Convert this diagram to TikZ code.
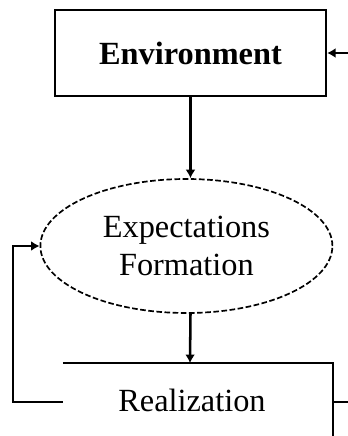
\documentclass[tikz,border=0pt]{standalone}
\usepackage{fontspec}
\setmainfont{Liberation Serif}
\usetikzlibrary{shapes.geometric, arrows.meta, positioning}
\tikzset{
  boxtxt/.style={font=\fontsize{23}{27}\selectfont},
  tip/.style={-{Latex[length=6pt,width=7pt]}}
}
\begin{document}
\begin{tikzpicture}
    \useasboundingbox (0,0) rectangle (8.7,-10.9);
    \clip (0,0) rectangle (8.7,-10.9);
    \node (env) at (4.7625,-1.325) [draw, line width=1.6pt, minimum width=6.775cm, minimum height=2.15cm, boxtxt] {\textbf{Environment}};
    \node (ell) at (4.66,-6.15) [draw, ellipse, dash pattern=on 4pt off 1.8pt, line width=1.2pt, minimum width=7.3cm, minimum height=3.35cm, align=center, boxtxt] {Expectations\\Formation};
    \node (real) at (4.8,-10.0) [boxtxt] {Realization};
    \coordinate (realtop) at (4.75,-9.075);
    \coordinate (realleft) at (1.575,-10.05);
    \coordinate (envin) at (9.0,-1.325);
    \coordinate (realout) at (9.0,-10.05);
    % open box round the realization
    \draw[line width=1pt] (1.575,-9.075) -- (8.325,-9.075) -- (8.325,-11.2);
    \draw[line width=1pt] (8.325,-10.05) -- (realout);
    \draw[line width=1.5pt, tip] (envin) -- (env.east);
    \draw[line width=1.8pt, tip] (env.south) -- (env.south |- ell.north);
    \draw[line width=1.8pt, tip] (env.south |- ell.south) -- (realtop);
    \draw[line width=1.5pt, tip] (realleft) -- ++(-1.25,0) |- (ell.west);
\end{tikzpicture}
\end{document}
